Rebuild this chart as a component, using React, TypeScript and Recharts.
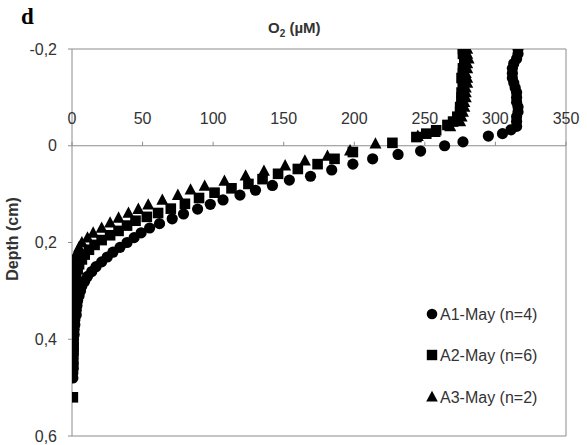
import React from 'react';
import { ScatterChart, Scatter, XAxis, YAxis, ReferenceLine, Customized } from 'recharts';

const xTicks = [0, 50, 100, 150, 200, 250, 300, 350];
const yTicks = [-0.2, 0, 0.2, 0.4, 0.6];
const seriesNames = ['A1-May (n=4)', 'A2-May (n=6)', 'A3-May (n=2)'];

const a1Depth = [-0.2, -0.19, -0.18, -0.17, -0.16, -0.15, -0.14, -0.13, -0.12, -0.11, -0.1, -0.09, -0.08, -0.07, -0.06, -0.05, -0.04,
  -0.033, -0.025, -0.02, -0.008, 0.0, 0.011, 0.018, 0.027, 0.038, 0.05, 0.063, 0.071, 0.082, 0.092, 0.102, 0.112, 0.121, 0.131, 0.141, 0.151, 0.161, 0.17,
  0.18, 0.19, 0.2, 0.21, 0.22, 0.23, 0.24, 0.25, 0.26, 0.27, 0.28, 0.29, 0.3, 0.31, 0.32, 0.33, 0.34, 0.35, 0.36, 0.37, 0.38, 0.39, 0.4, 0.41, 0.42, 0.43, 0.44, 0.45, 0.46, 0.47, 0.48];
const a1O2 = [316, 316, 315, 313, 312, 312, 312, 313, 314, 315, 315, 315, 316, 316, 315, 315, 315,
  311, 305, 295, 277, 264, 247, 231, 213, 199, 184, 169, 154, 142, 130, 119, 107, 98, 89, 79, 71, 62, 55,
  49, 44, 39, 34, 29, 25, 21, 17, 14, 11, 9, 7, 6, 5, 4, 3.5, 3, 3, 2, 2, 1.5, 1.5, 1, 1, 1, 1, 0.8, 0.8, 0.8, 0.6, 0.6];

const a2Depth = [-0.2, -0.19, -0.18, -0.17, -0.16, -0.15, -0.14, -0.13, -0.12, -0.11, -0.1, -0.09, -0.08, -0.07,
  -0.06, -0.05, -0.043, -0.032, -0.025, -0.018, -0.006, 0.013, 0.027, 0.038, 0.048, 0.058, 0.069, 0.079, 0.088, 0.097, 0.108, 0.12, 0.13, 0.139, 0.147, 0.155,
  0.165, 0.176, 0.185, 0.195, 0.205, 0.215, 0.225, 0.235, 0.245, 0.255, 0.265, 0.275, 0.285, 0.295, 0.305, 0.315, 0.325, 0.335, 0.345, 0.355, 0.365,
  0.375, 0.385, 0.395, 0.405, 0.415, 0.425, 0.435, 0.445, 0.455, 0.52];
const a2O2 = [277, 277, 278, 278, 277, 277, 276, 277, 277, 276, 276, 276, 275, 275,
  273, 270, 266, 258, 251, 244, 227, 199, 186, 174, 160, 146, 135, 125, 113, 101, 90, 80, 70, 61, 53, 45,
  39, 33, 27, 21, 16, 12, 9, 7, 5, 4, 3, 2.5, 2, 1.5, 1, 0.5, 0.2, 0.5, 1, 1, 1.2,
  1, 1, 0.8, 0.8, 1, 0.8, 0.6, 0.6, 0.8, 0.6];

const a3Depth = [-0.2, -0.19, -0.18, -0.17, -0.16, -0.15, -0.14, -0.13, -0.12, -0.11, -0.1, -0.09, -0.08, -0.07, -0.06,
  -0.05, -0.04, -0.028, -0.02, -0.004, 0.01, 0.021, 0.031, 0.041, 0.052, 0.062, 0.073, 0.083, 0.091, 0.102, 0.112, 0.122, 0.131, 0.139, 0.149, 0.159,
  0.17, 0.18, 0.19, 0.2, 0.21, 0.22, 0.23, 0.24, 0.25, 0.26, 0.27, 0.28, 0.29, 0.3, 0.31, 0.32, 0.33, 0.34, 0.35, 0.36, 0.37, 0.38, 0.39, 0.4];
const a3O2 = [280, 280, 281, 280, 280, 279, 280, 280, 279, 279, 279, 278, 278, 277, 276,
  275, 268, 257, 245, 215, 197, 181, 165, 151, 136, 123, 108, 94, 84, 75, 64, 54, 47, 40, 33, 27,
  21, 15, 11, 7, 5, 3.5, 2.5, 2, 1.5, 1.2, 1, 1, 0.8, 0.8, 0.6, 0.6, 0.5, 0.5, 0.5, 0.5, 0.4, 0.4, 0.4, 0.4];

const toPoints = (depth: number[], o2: number[]) => depth.map((d, i) => ({ depth: d, o2: o2[i] }));
const a1Data = toPoints(a1Depth, a1O2);
const a2Data = toPoints(a2Depth, a2O2);
const a3Data = toPoints(a3Depth, a3O2);

const FONT = '"Liberation Sans", Arial, sans-serif';
const AXIS_COLOR = '#8c8c8c';
const TEXT_COLOR = '#333';
const ZERO_Y = 145.75;

const CircleShape = (p: any) => <circle cx={p.cx} cy={p.cy} r={5.6} fill="#000" />;
const SquareShape = (p: any) => <rect x={p.cx - 5.3} y={p.cy - 5.3} width={10.6} height={10.6} fill="#000" />;
const TriangleShape = (p: any) => (
  <polygon points={`${p.cx},${p.cy - 6.5} ${p.cx + 6},${p.cy + 4.8} ${p.cx - 6},${p.cy + 4.8}`} fill="#000" />
);

const XTick = (p: any) => (
  <g>
    <line x1={p.x} x2={p.x} y1={ZERO_Y - 4} y2={ZERO_Y} stroke={AXIS_COLOR} />
    <text x={p.x} y={124} textAnchor="middle" fontSize={16} fontFamily={FONT} fill={TEXT_COLOR}>
      {p.payload.value}
    </text>
  </g>
);

const Decorations = () => {
  const rows = [
    { name: seriesNames[0], y: 314, icon: (cx: number, cy: number) => <circle cx={cx} cy={cy} r={5.3} fill="#000" /> },
    { name: seriesNames[1], y: 355, icon: (cx: number, cy: number) => <rect x={cx - 5.2} y={cy - 5.2} width={10.4} height={10.4} fill="#000" /> },
    { name: seriesNames[2], y: 397, icon: (cx: number, cy: number) => <polygon points={`${cx},${cy - 6.3} ${cx + 5.8},${cy + 4.6} ${cx - 5.8},${cy + 4.6}`} fill="#000" /> },
  ];
  return (
    <g>
      <text x={21} y={24} fontSize={23} fontWeight="bold" fontFamily='"Liberation Serif", "Times New Roman", serif' fill="#000">d</text>
      <text x={268} y={33} fontSize={15} fontWeight="bold" fontFamily={FONT} fill={TEXT_COLOR}>
        O<tspan fontSize={10} dy={4}>2</tspan><tspan dy={-4}> (µM)</tspan>
      </text>
      <text x={18} y={239} transform="rotate(-90 18 239)" textAnchor="middle" fontSize={16} fontWeight="bold" fontFamily={FONT} fill={TEXT_COLOR}>
        Depth (cm)
      </text>
      {rows.map((r) => (
        <g key={r.name}>
          {r.icon(432, r.y)}
          <text x={440} y={r.y + 6} fontSize={16} fontFamily={FONT} fill={TEXT_COLOR}>{r.name}</text>
        </g>
      ))}
    </g>
  );
};

export default function App() {
  return (
    <div style={{ position: 'absolute', left: 0, top: 0, background: '#fff' }}>
      <ScatterChart width={587} height={445} margin={{ top: 19, right: 21, bottom: 9, left: 0 }}>
        <XAxis
          type="number"
          dataKey="o2"
          orientation="top"
          domain={[0, 350]}
          ticks={xTicks}
          axisLine={false}
          tickLine={false}
          tick={<XTick />}
          height={30}
          allowDataOverflow
        />
        <YAxis
          type="number"
          dataKey="depth"
          domain={[-0.2, 0.6]}
          ticks={yTicks}
          reversed
          width={72}
          allowDataOverflow
          tickFormatter={(v: number) => String(v).replace('.', ',')}
          tick={{ fontSize: 16, fontFamily: FONT, fill: TEXT_COLOR }}
          tickSize={4}
          tickMargin={11}
          axisLine={{ stroke: AXIS_COLOR }}
          tickLine={{ stroke: AXIS_COLOR }}
        />
        <ReferenceLine y={-0.2} stroke={AXIS_COLOR} />
        <ReferenceLine y={0.6} stroke={AXIS_COLOR} />
        <ReferenceLine x={350} stroke={AXIS_COLOR} />
        <ReferenceLine y={0} stroke={AXIS_COLOR} />
        <Scatter name={seriesNames[0]} data={a1Data} shape={CircleShape} isAnimationActive={false} />
        <Scatter name={seriesNames[1]} data={a2Data} shape={SquareShape} isAnimationActive={false} />
        <Scatter name={seriesNames[2]} data={a3Data} shape={TriangleShape} isAnimationActive={false} />
        <Customized component={Decorations} />
      </ScatterChart>
    </div>
  );
}
